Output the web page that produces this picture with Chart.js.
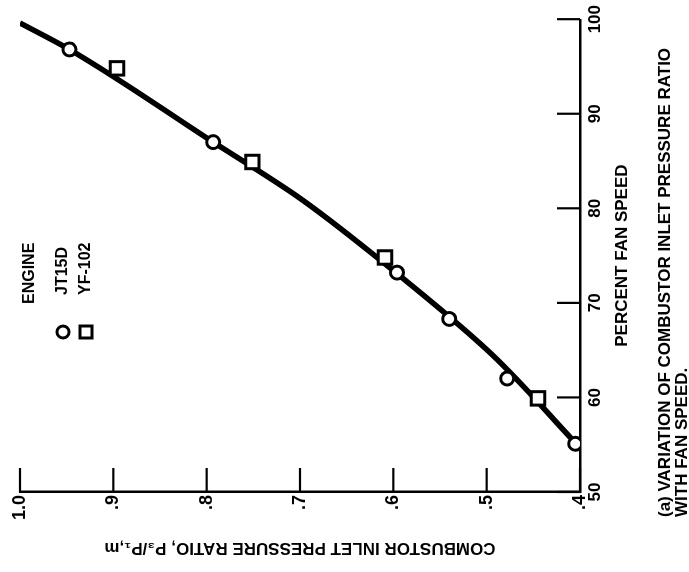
<!DOCTYPE html>
<html>
<head>
<meta charset="utf-8">
<script src="https://cdn.jsdelivr.net/npm/chart.js@4.4.1/dist/chart.umd.min.js"></script>
<style>
  body { margin: 0; background: #fff; overflow: hidden; }
  #wrap {
    position: absolute; left: 0; top: 0;
    width: 572px; height: 689px;
    transform-origin: 0 0;
    transform: translate(0, 572px) rotate(-90deg);
  }
</style>
</head>
<body>
<div id="wrap"><canvas id="grafico" width="572" height="689"></canvas></div>
<script>
// data (fan speed %, pressure ratio)
const fanJT15D = [96.8, 87.0, 73.2, 68.3, 62.0, 55.1];
const prJT15D = [0.947, 0.793, 0.596, 0.540, 0.478, 0.405];
const fanYF102 = [94.8, 84.9, 74.8, 59.9];
const prYF102 = [0.896, 0.751, 0.609, 0.445];
const fanCurve = [99.6, 96.8, 87.0, 81.2, 75.4, 64.7, 55.2];
const prCurve = [1.000, 0.947, 0.793, 0.702, 0.625, 0.496, 0.405];

const fanTicks = [50, 60, 70, 80, 90, 100];
const prTicks = [0.4, 0.5, 0.6, 0.7, 0.8, 0.9, 1.0];
const prTickLabels = ['.4', '.5', '.6', '.7', '.8', '.9', '1.0'];

const toXY = (xs, ys) => xs.map((x, i) => ({ x: x, y: ys[i] }));

Chart.defaults.font.family = "'Liberation Sans', Arial, sans-serif";
Chart.defaults.font.weight = 'bold';
Chart.defaults.color = '#000';

// inward ticks, legend box and caption
const extras = {
  id: 'extras',
  afterDraw(chart) {
    const ctx = chart.ctx;
    const xs = chart.scales.x, ys = chart.scales.y;
    const a = chart.chartArea;
    ctx.save();
    ctx.strokeStyle = '#000';
    ctx.lineWidth = 2.2;
    fanTicks.forEach(v => {
      const px = xs.getPixelForValue(v);
      ctx.beginPath(); ctx.moveTo(px, a.bottom); ctx.lineTo(px, a.bottom - 23); ctx.stroke();
    });
    prTicks.forEach(v => {
      const py = ys.getPixelForValue(v);
      ctx.beginPath(); ctx.moveTo(a.left, py); ctx.lineTo(a.left + 24, py); ctx.stroke();
    });

    // legend
    ctx.fillStyle = '#000';
    ctx.font = "bold 16px 'Liberation Sans', Arial, sans-serif";
    ctx.textBaseline = 'middle';
    ctx.textAlign = 'left';
    ctx.fillText('ENGINE', 268, 30);
    ctx.fillText('JT15D', 277, 63);
    ctx.fillText('YF-102', 277, 86);
    ctx.lineWidth = 3;
    ctx.fillStyle = '#fff';
    ctx.beginPath(); ctx.arc(240, 63, 6, 0, Math.PI * 2); ctx.fill(); ctx.stroke();
    ctx.beginPath(); ctx.rect(234, 80, 12, 12); ctx.fill(); ctx.stroke();

    // caption
    ctx.fillStyle = '#000';
    ctx.font = "bold 17px 'Liberation Sans', Arial, sans-serif";
    ctx.fillText('(a) VARIATION OF COMBUSTOR INLET PRESSURE RATIO', 55, 665);
    ctx.fillText('WITH FAN SPEED.', 55, 682);
    ctx.restore();
  }
};

new Chart(document.getElementById('grafico'), {
  data: {
    datasets: [
      {
        type: 'scatter', label: 'JT15D', data: toXY(fanJT15D, prJT15D), order: 1,
        pointStyle: 'circle', pointRadius: 6.5, pointBorderWidth: 3,
        pointBackgroundColor: '#fff', pointBorderColor: '#000'
      },
      {
        type: 'scatter', label: 'YF-102', data: toXY(fanYF102, prYF102), order: 1,
        pointStyle: 'rect', pointRadius: 9.5, pointBorderWidth: 3,
        pointBackgroundColor: '#fff', pointBorderColor: '#000'
      },
      {
        type: 'line', label: 'curve', data: toXY(fanCurve, prCurve), order: 2,
        borderColor: '#000', borderWidth: 5.5, pointRadius: 0,
        cubicInterpolationMode: 'monotone', fill: false
      }
    ]
  },
  options: {
    responsive: false,
    animation: false,
    layout: { padding: { top: 20, right: 19, left: 0, bottom: 56 } },
    plugins: { legend: { display: false }, tooltip: { enabled: false } },
    scales: {
      x: {
        type: 'linear', position: 'bottom', min: 50, max: 100,
        afterBuildTicks: s => { s.ticks = fanTicks.map(v => ({ value: v })); },
        afterFit: s => { s.height = 53; },
        ticks: { font: { size: 17 }, padding: 5, maxRotation: 0 },
        grid: { display: false, drawTicks: false },
        border: { display: true, color: '#000', width: 2.5 },
        title: { display: true, text: 'PERCENT FAN SPEED', font: { size: 17 }, padding: { top: 0, bottom: 0 } }
      },
      y: {
        type: 'linear', min: 0.4, max: 1.0,
        afterBuildTicks: s => { s.ticks = prTicks.map(v => ({ value: v })); },
        afterFit: s => { s.width = 80; },
        ticks: {
          font: { size: 18 }, padding: 3,
          callback: (v, i) => prTickLabels[i]
        },
        grid: { display: false, drawTicks: false },
        border: { display: true, color: '#000', width: 2.5 },
        title: { display: true, text: 'COMBUSTOR INLET PRESSURE RATIO, P\u2083/P\u2081,m', font: { size: 17 }, padding: { top: 14, bottom: 0 } }
      }
    }
  },
  plugins: [extras]
});
</script>
</body>
</html>
